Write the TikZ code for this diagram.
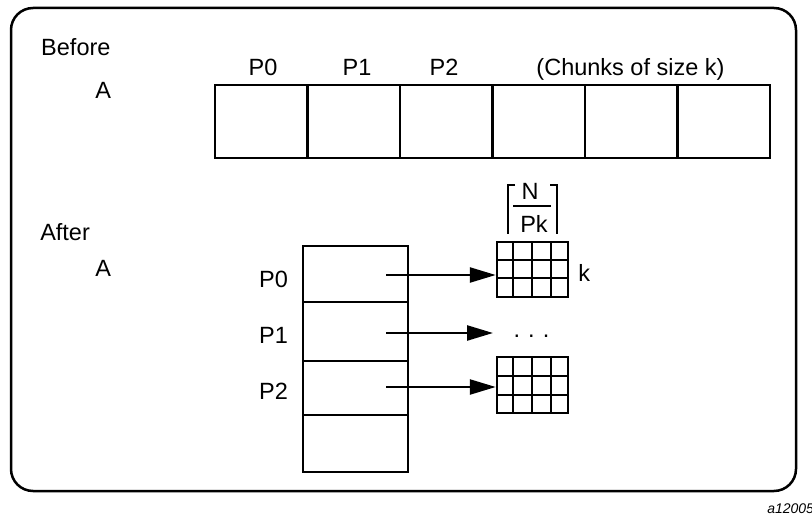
\documentclass[tikz,border=0pt]{standalone}
\usepackage{fontspec}
\setmainfont{Liberation Sans}
\usetikzlibrary{arrows.meta}
\tikzset{
  lbl/.style={inner sep=0pt,font=\fontsize{23.5}{28}\selectfont},
  cell/.style={draw,inner sep=0pt,line width=2.5pt},
  arr/.style={line width=2.5pt,-{Triangle[length=26pt,width=15pt]}}
}
\begin{document}
\begin{tikzpicture}[x=1pt,y=-1pt,line width=2.5pt]
  \useasboundingbox (0,0) rectangle (812,519);
  \draw[rounded corners=22pt] (11,8) rectangle (796,491);
  % before
  \node[lbl,anchor=base west] (before) at (40,56) {Before};
  \node[lbl,anchor=base west] (abefore) at (94,99) {A};
  \foreach \i in {0,...,5}
    \node[cell,minimum width=92.5pt,minimum height=73pt] (c\i) at ({261.25+92.5*\i},121.5) {};
  \node[lbl,anchor=base] (p0top) at (263,76) {P0};
  \node[lbl,anchor=base] (p1top) at (357,76) {P1};
  \node[lbl,anchor=base] (p2top) at (444,76) {P2};
  \node[lbl,anchor=base] (chunks) at (630.5,76) {(Chunks of size k)};
  % after
  \node[lbl,anchor=base west] (after) at (39,240) {After};
  \node[lbl,anchor=base west] (aafter) at (94,276) {A};
  \foreach \i/\yc/\h in {0/274/56, 1/331.5/59, 2/388/54, 3/443.5/57}
    \node[cell,minimum width=105pt,minimum height=\h pt] (r\i) at (355.5,\yc) {};
  \node[lbl,anchor=base] (p0) at (273.5,287) {P0};
  \node[lbl,anchor=base] (p1) at (273.5,343) {P1};
  \node[lbl,anchor=base] (p2) at (273.5,399) {P2};
  % chunk grids
  \node[cell,minimum width=71pt,minimum height=55pt] (g0) at (532.5,269.5) {};
  \foreach \x in {513,532,551} \draw (\x,242) -- (\x,297);
  \foreach \y in {260,278} \draw (497,\y) -- (568,\y);
  \node[cell,minimum width=71pt,minimum height=56pt] (g2) at (532.5,385) {};
  \foreach \x in {513,532,551} \draw (\x,357) -- (\x,413);
  \foreach \y in {376,395} \draw (497,\y) -- (568,\y);
  \node[lbl,anchor=base west] (k) at (577,281) {k};
  \node[lbl,anchor=base] (dots) at (531.5,337) {.\hspace{8pt}.\hspace{8pt}.};
  % ceiling of N/Pk
  \node[lbl,anchor=base] (n) at (530,199) {N};
  \node[lbl,anchor=base] (pk) at (534,232) {Pk};
  \draw[line width=2.2pt] (513,206) -- (551,206);
  \draw[line width=2.2pt] (515,185) -- (508,185) -- (508,234);
  \draw[line width=2.2pt] (550,185) -- (557,185) -- (557,234);
  % pointers
  \coordinate (a0) at (386,275);
  \coordinate (a1) at (386,333);
  \coordinate (a2) at (386,387);
  \coordinate (d1) at (493,333);
  \draw[arr] (a0) -- (a0 -| g0.west);
  \draw[arr] (a1) -- (d1);
  \draw[arr] (a2) -- (a2 -| g2.west);
  \node[anchor=base west,inner sep=0pt,font=\itshape\fontsize{14}{17}\selectfont] (tag) at (766,513) {a12005};
\end{tikzpicture}
\end{document}
